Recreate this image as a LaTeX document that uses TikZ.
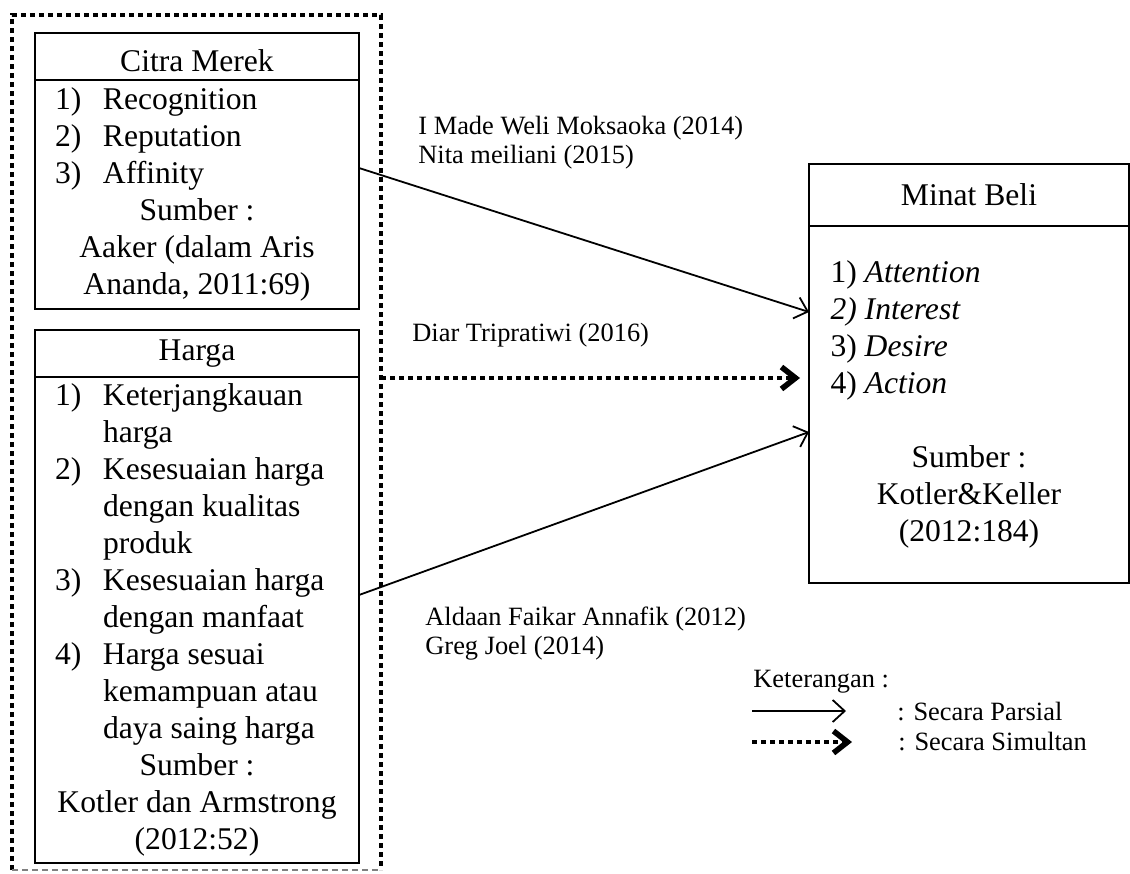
\documentclass[tikz,border=0pt]{standalone}
\usepackage{fontspec}
\setmainfont{Liberation Serif}
\usepackage{tikz}
\usetikzlibrary{arrows.meta, positioning, calc}
\tikzstyle{arrow} = [line width=0.9pt,-{Straight Barb[length=6pt,width=11pt]}]
\tikzstyle{simarrow} = [line width=2pt, dash pattern=on 2.5pt off 2pt, -{Straight Barb[length=7pt,width=11pt,line width=2.8pt]}]
\newcommand{\bigfont}{\fontsize{15.8}{18.5}\selectfont}
\newcommand{\smallfont}{\fontsize{13.2}{14.5}\selectfont}

\begin{document}
\begin{tikzpicture}[
    x=0.5pt, y=-0.5pt,
    head/.style={rectangle, draw=black, line width=0.7pt, minimum width=162pt, inner sep=0pt, outer sep=0pt, font=\bigfont},
    body/.style={rectangle, draw=black, line width=0.7pt, minimum width=162pt, inner sep=0pt, outer sep=0pt, font=\bigfont},
    note/.style={anchor=west, align=left, font=\smallfont, inner sep=0pt},
    frame/.style={line width=2pt, dash pattern=on 2.5pt off 2pt}
]
\useasboundingbox (0,0) rectangle (1130,873);

% Group frame
\draw[frame] (12,870) -- (12,15) -- (381,15) -- (381,870);
\draw[gray, line width=0.6pt, dash pattern=on 3pt off 2pt] (12,870) -- (381,870);
\coordinate (grpEast) at (381,378);

% Nodes
\node (citraHead) [head, minimum height=23.5pt, text height=15pt, text depth=0pt] at (197,56.5) {Citra Merek};
\node (citraBody) [body, minimum height=114.5pt, below=0pt of citraHead] {%
  \begin{tabular}{@{}p{24pt}@{}p{118pt}@{}}
  1) & Recognition\\
  2) & Reputation\\
  3) & Affinity\\
  \multicolumn{2}{@{}c@{}}{Sumber :}\\
  \multicolumn{2}{@{}c@{}}{Aaker (dalam Aris}\\
  \multicolumn{2}{@{}c@{}}{Ananda, 2011:69)}
  \end{tabular}};

\node (hargaHead) [head, minimum height=23.5pt] at (197,353.5) {Harga};
\node (hargaBody) [body, minimum height=243pt, below=0pt of hargaHead] {%
  \begin{tabular}{@{}p{24pt}@{}p{118pt}@{}}
  1) & Keterjangkauan\newline harga\\
  2) & Kesesuaian harga\newline dengan kualitas\newline produk\\
  3) & Kesesuaian harga\newline dengan manfaat\\
  4) & Harga sesuai\newline kemampuan atau\newline daya saing harga\\
  \multicolumn{2}{@{}c@{}}{Sumber :}\\
  \multicolumn{2}{@{}c@{}}{Kotler dan Armstrong}\\
  \multicolumn{2}{@{}c@{}}{(2012:52)}
  \end{tabular}};

\node (minatHead) [head, minimum width=160pt, minimum height=31pt] at (969,195) {Minat Beli};
\node (minatBody) [body, minimum width=160pt, minimum height=178.5pt, below=0pt of minatHead] {%
  \begin{tabular}{@{}p{138.5pt}@{}}
  1) \textit{Attention}\\
  \textit{2) Interest}\\
  3) \textit{Desire}\\
  4) \textit{Action}\\[18.5pt]
  \multicolumn{1}{@{}c@{}}{Sumber :}\\
  \multicolumn{1}{@{}c@{}}{Kotler\&Keller}\\
  \multicolumn{1}{@{}c@{}}{(2012:184)}
  \end{tabular}};

% Labels
\node (refA) [note] at (418,142.5) {I Made Weli Moksaoka (2014)\\Nita meiliani (2015)};
\node (refB) [note] at (412,335) {Diar Tripratiwi (2016)};
\node (refC) [note] at (425,634) {Aldaan Faikar Annafik (2012)\\Greg Joel (2014)};

% Edges
\draw [arrow] ([yshift=13.25pt]citraBody.east) -- ([yshift=46.25pt]minatBody.west);
\draw [arrow] ([yshift=12.5pt]hargaBody.east) -- ([yshift=-13.75pt]minatBody.west);
\draw [simarrow] (grpEast) -- ([xshift=-4.5pt,yshift=13.25pt]minatBody.west);

% Legend
\node (ket) [note] at (753,682) {Keterangan :};
\node (parsial) [note] at (897,712) {: Secara Parsial};
\node (simultan) [note] at (898,742) {: Secara Simultan};
\coordinate (legA) at (752,711);
\coordinate (legAend) at (846,711);
\coordinate (legB) at (752,742);
\coordinate (legBend) at (852,742);
\draw [arrow] (legA) -- (legAend);
\draw [simarrow] (legB) -- (legBend);

\end{tikzpicture}
\end{document}
